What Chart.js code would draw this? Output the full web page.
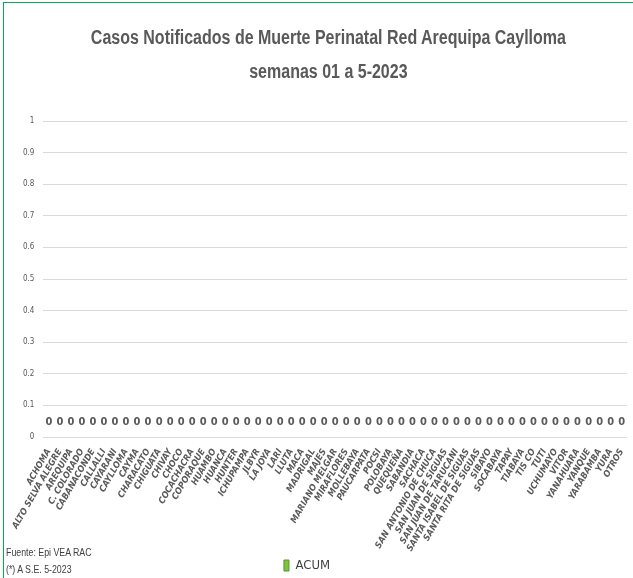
<!DOCTYPE html>
<html>
<head>
<meta charset="utf-8">
<script src="https://cdn.jsdelivr.net/npm/chart.js@4.4.0/dist/chart.umd.min.js"></script>
<style>
  body { margin: 0; background: #fff; }
  #wrap { position: relative; width: 633px; height: 578px; }
  #frame { position: absolute; left: 3px; top: 2px; width: 640px; height: 600px; border: 1px solid #00b050; box-sizing: border-box; }
  .narrow { position: absolute; font-family: "Liberation Sans", Arial, sans-serif; white-space: nowrap; }
  #title { left: 12px; width: 633px; top: 20px; text-align: center; color: #595959; font-size: 20px; font-weight: bold; line-height: 34px; transform: scaleX(0.8); transform-origin: 316px 0; }
  .note { left: 6px; font-size: 11px; color: #404040; transform: scaleX(0.8); transform-origin: 0 0; }
</style>
</head>
<body>
<div id="wrap">
  <div id="frame"></div>
  <canvas id="perinatalChart" width="633" height="578"></canvas>
  <div id="title" class="narrow">Casos Notificados de Muerte Perinatal Red Arequipa Caylloma<br>semanas 01 a 5-2023</div>
  <div class="narrow note" style="top:546px">Fuente: Epi VEA RAC</div>
  <div class="narrow note" style="top:563px">(*) A S.E. 5-2023</div>
</div>
<script>
// ===== Data =====
const districts = [
  "ACHOMA", "ALTO SELVA ALEGRE", "AREQUIPA", "C. COLORADO", "CABANACONDE",
  "CALLALLI", "CAYARANI", "CAYLLOMA", "CAYMA", "CHARACATO", "CHIGUATA",
  "CHIVAY", "CHOCO", "COCACHACRA", "COPORAQUE", "HUAMBO", "HUANCA", "HUNTER",
  "ICHUPAMPA", "JLBYR", "LA JOYA", "LARI", "LLUTA", "MACA", "MADRIGAL", "MAJES",
  "MARIANO MELGAR", "MIRAFLORES", "MOLLEBAYA", "PAUCARPATA", "POCSI", "POLOBAYA",
  "QUEQUEÑA", "SABANDIA", "SACHACA", "SAN ANTONIO DE CHUCA", "SAN JUAN DE SIGUAS",
  "SAN JUAN DE TARUCANI", "SANTA ISABEL DE SIGUAS", "SANTA RITA DE SIGUAS",
  "SIBAYO", "SOCABAYA", "TAPAY", "TIABAYA", "TIS CO", "TUTI", "UCHUMAYO",
  "VITOR", "YANAHUARA", "YANQUE", "YARABAMBA", "YURA", "OTROS"
];
const acum = [
  0, 0, 0, 0, 0, 0, 0, 0, 0, 0, 0, 0, 0, 0, 0, 0, 0, 0,
  0, 0, 0, 0, 0, 0, 0, 0, 0, 0, 0, 0, 0, 0, 0, 0, 0, 0,
  0, 0, 0, 0, 0, 0, 0, 0, 0, 0, 0, 0, 0, 0, 0, 0, 0
];
const yMax = 1;
const yStep = 0.1;

const cond = "'DejaVu Sans Condensed', sans-serif";

// ===== Value labels above bars =====
const valueLabels = {
  id: "valueLabels",
  afterDatasetsDraw(chart) {
    const { ctx } = chart;
    const meta = chart.getDatasetMeta(0);
    ctx.save();
    ctx.font = "bold 11px " + cond;
    ctx.fillStyle = "#595959";
    ctx.textAlign = "center";
    ctx.textBaseline = "bottom";
    meta.data.forEach((bar, i) => {
      ctx.fillText(String(acum[i]), bar.x, bar.y - 9);
    });
    ctx.restore();
  }
};

// legend sits a bit left of centre and lower, like the original
const shiftLegend = {
  id: "shiftLegend",
  afterLayout(chart) {
    const lg = chart.legend;
    lg.left -= 15;
    lg.right -= 15;
    lg.top += 4;
    lg.bottom += 4;
  }
};

new Chart(document.getElementById("perinatalChart"), {
  type: "bar",
  data: {
    labels: districts,
    datasets: [{
      label: "ACUM",
      data: acum,
      backgroundColor: "#7ec440",
      borderColor: "#4e9a2a",
      borderWidth: 1
    }]
  },
  options: {
    responsive: false,
    animation: false,
    layout: { padding: { top: 121, right: 3, left: 14, bottom: 0 } },
    plugins: {
      title: { display: false },
      legend: {
        position: "bottom",
        labels: {
          color: "#404040",
          font: { family: cond, size: 13 },
          boxWidth: 5,
          boxHeight: 11,
          padding: 2
        }
      },
      tooltip: { enabled: false }
    },
    scales: {
      x: {
        grid: { display: false },
        border: { display: false },
        afterFit(axis) {
          axis.height = 116;
        },
        ticks: {
          autoSkip: false,
          maxRotation: 60,
          minRotation: 60,
          color: "#595959",
          font: { family: cond, size: 9, style: "italic", weight: "bold" },
          padding: 2
        }
      },
      y: {
        min: 0,
        max: yMax,
        grid: { color: "#d9d9d9", lineWidth: 1, drawTicks: false },
        border: { display: false },
        ticks: {
          stepSize: yStep,
          color: "#595959",
          font: { family: cond, size: 8 },
          padding: 9,
          callback: v => String(Math.round(v * 10) / 10)
        }
      }
    }
  },
  plugins: [valueLabels, shiftLegend]
});
</script>
</body>
</html>
